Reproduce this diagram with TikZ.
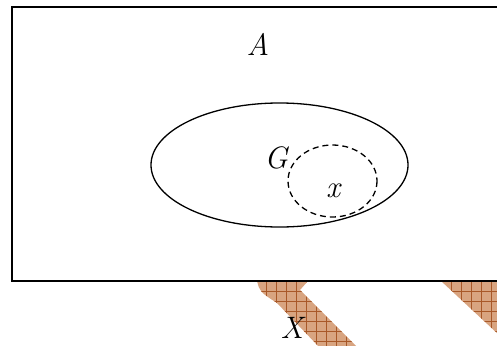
\documentclass[tikz,border=0pt]{standalone}
\usepackage{fontspec}
\usetikzlibrary{shapes.geometric}
\definecolor{stripefill}{RGB}{216,164,128}
\definecolor{stripegrid}{RGB}{168,88,40}
\begin{document}
\begin{tikzpicture}[x=1pt,y=-1pt,
  lbl/.style={font=\fontsize{31}{33}\selectfont\itshape, inner sep=0pt},
  gridline/.style={stripegrid, line width=0.7pt},
  boxline/.style={line width=2pt, black},
  setline/.style={line width=1.3pt},
  subline/.style={line width=1.3pt, dash pattern=on 6pt off 4pt}]
\useasboundingbox (0,0) rectangle (497,345);
\clip (0,0) rectangle (497,345);
% stripe 1
\def\stripeA{(257,281) -- (308,281) -- (300,290) -- (358,348) -- (320,348) -- (277,303) .. controls (260,292) .. (257,281) -- cycle}
\fill[stripefill] \stripeA;
\begin{scope}
  \clip \stripeA;
  \foreach \i in {0,...,12} \draw[gridline] ({246.7+10*\i},275) -- ({246.7+10*\i},350);
  \foreach \j in {0,...,7} \draw[gridline] (240,{281.7+10*\j}) -- (370,{281.7+10*\j});
\end{scope}
% stripe 2
\def\stripeB{(441,281) -- (530,281) -- (530,348) -- (513,348) -- cycle}
\fill[stripefill] \stripeB;
\begin{scope}
  \clip \stripeB;
  \foreach \i in {0,...,10} \draw[gridline] ({431.7+10*\i},275) -- ({431.7+10*\i},350);
  \foreach \j in {0,...,7} \draw[gridline] (430,{281.7+10*\j}) -- (530,{281.7+10*\j});
\end{scope}
% big box
\draw[boxline] (11.5,7) rectangle (530,280.5);
% set G and neighbourhood
\draw[setline] (279.5,165) ellipse [x radius=128.5, y radius=62];
\draw[subline] (332.5,181) ellipse [x radius=44.5, y radius=36];
% labels
\node[lbl] (A) at (258,44) {A};
\node[lbl] (G) at (276,158) {G};
\node[lbl] (x) at (333,191) {x};
\node[lbl] (X) at (292,328) {X};
\end{tikzpicture}
\end{document}
